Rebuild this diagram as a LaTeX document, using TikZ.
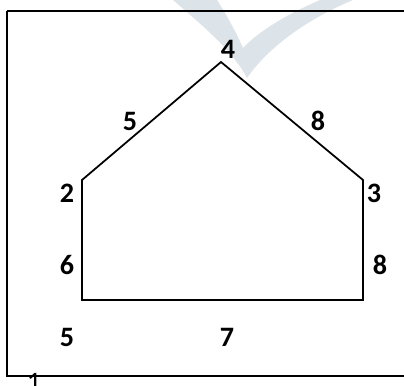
\documentclass[tikz,border=0pt]{standalone}
\usepackage{fontspec}
\setmainfont{Carlito}
\definecolor{wmark}{RGB}{221,228,233}
\begin{document}
\begin{tikzpicture}[x=0.02cm,y=-0.02cm,font=\fontsize{16}{18}\selectfont\bfseries]
\clip (0,0) rectangle (404,385);
% watermark
\fill[wmark] (173,0) .. controls (205,28) and (232,50) .. (247,78)
  .. controls (270,45) and (310,18) .. (353,0) -- (320,0)
  .. controls (285,15) and (258,32) .. (243,48)
  .. controls (235,30) and (226,14) .. (217,0) -- cycle;
% frame
\draw[line width=1.1pt] (7,11) -- (406,11);
\draw[line width=1.1pt] (7,11) -- (7,376) -- (406,376);
% house outline
\coordinate (top) at (221,62);
\coordinate (ul) at (82,180);
\coordinate (ur) at (363,180);
\coordinate (bl) at (82,300);
\coordinate (br) at (363,300);
\draw[line width=1pt] (ul) -- (top) -- (ur) -- (br) -- (bl) -- cycle;
% labels
\node (l4) at (228,49) {4};
\node (l5a) at (130,121) {5};
\node (l8a) at (318,121) {8};
\node (l2) at (67,193) {2};
\node (l3) at (374,193) {3};
\node (l6) at (67,265) {6};
\node (l8b) at (380,265) {8};
\node (l5b) at (67,337) {5};
\node (l7) at (227,337) {7};
\node[font=\fontsize{16}{18}\selectfont] (l1) at (34,382) {1};
\end{tikzpicture}
\end{document}
